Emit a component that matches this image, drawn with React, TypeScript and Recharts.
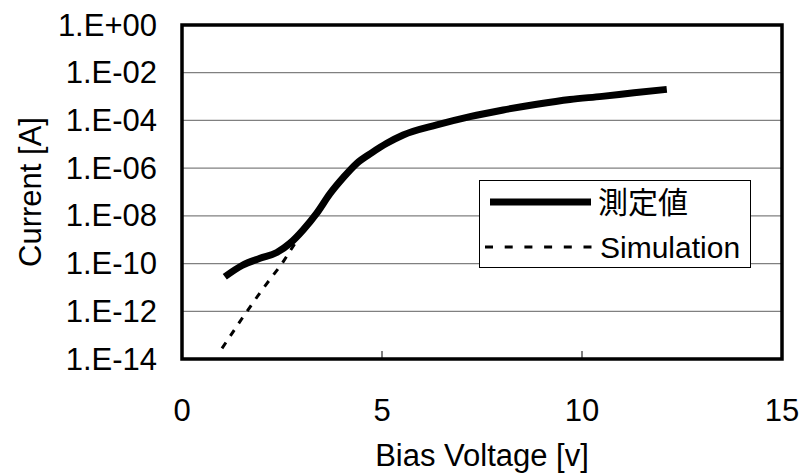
import { LineChart, Line, XAxis, YAxis, CartesianGrid, ReferenceArea } from 'recharts';

const FONT = '"Liberation Sans", Arial, "Noto Sans CJK JP", sans-serif';
const FS = 31;

// measured curve: bias voltage [V] and current [A]
const measuredV = [1.07, 1.5, 1.95, 2.37, 2.7, 3.03, 3.37, 3.7, 4.03, 4.37, 4.75, 5.12, 5.53, 6.37, 7.2, 8.03, 8.87, 9.7, 10.5, 11.3, 12.12];
const measuredI = [2.8e-11, 8.3e-11, 1.66e-10, 2.9e-10, 7.1e-10, 2.6e-9, 1.3e-8, 8.5e-8, 4.0e-7, 1.6e-6, 4.5e-6, 1.1e-5, 2.45e-5, 6.5e-5, 1.45e-4, 2.75e-4, 4.8e-4, 7.6e-4, 1.02e-3, 1.45e-3, 2.0e-3];

// simulation
const simV = [1.0, 1.5, 2.0, 2.5, 2.9];
const simI = [2.8e-14, 5.0e-13, 7.9e-12, 1.0e-10, 1.1e-9];

const xTicks = [0, 5, 10, 15];
const yTicks = [1, 1e-2, 1e-4, 1e-6, 1e-8, 1e-10, 1e-12, 1e-14];

const measured = measuredV.map((v, i) => ({ v, cur: measuredI[i] }));
const simulation = simV.map((v, i) => ({ v, cur: simI[i] }));

const fmtExp = (val: number) => {
  const e = Math.round(Math.log10(val));
  const sign = e < 0 ? '-' : '+';
  return `1.E${sign}${String(Math.abs(e)).padStart(2, '0')}`;
};

const XTick = ({ x, y, payload }: any) => (
  <g>
    {payload.value > 0 && payload.value < 15 && (
      <line x1={x} x2={x} y1={y} y2={y - 8} stroke="#000" strokeWidth={1} />
    )}
    <text x={x} y={y + 51} textAnchor="middle" dominantBaseline="central" fontSize={FS} fontFamily={FONT} fill="#000">
      {payload.value}
    </text>
  </g>
);

const YTick = ({ x, y, payload }: any) => (
  <text x={x - 25} y={y} textAnchor="end" dominantBaseline="central" fontSize={FS} fontFamily={FONT} fill="#000">
    {fmtExp(payload.value)}
  </text>
);

const XTitle = ({ viewBox }: any) => (
  <text x={viewBox.x + viewBox.width / 2} y={455} textAnchor="middle" dominantBaseline="central" fontSize={FS} fontFamily={FONT} fill="#000">
    Bias Voltage [v]
  </text>
);

const YTitle = ({ viewBox }: any) => {
  const cy = viewBox.y + viewBox.height / 2;
  return (
    <text x={30} y={cy} transform={`rotate(-90, 30, ${cy})`} textAnchor="middle" dominantBaseline="central" fontSize={FS} fontFamily={FONT} fill="#000">
      Current [A]
    </text>
  );
};

const LegendBox = () => (
  <div style={{ position: 'absolute', left: 479, top: 180, width: 272, height: 88, border: '1.5px solid #000', background: '#fff', boxSizing: 'border-box' }}>
    <svg width={270} height={86} style={{ display: 'block' }}>
      <line x1={10} x2={111} y1={21} y2={21} stroke="#000" strokeWidth={7} />
      <text x={118} y={21} dominantBaseline="central" fontSize={30} fontFamily={FONT} fill="#000">測定値</text>
      <line x1={5} x2={114} y1={66} y2={66} stroke="#000" strokeWidth={3} strokeDasharray="8 11.7" />
      <text x={120} y={66} dominantBaseline="central" fontSize={30} fontFamily={FONT} fill="#000">Simulation</text>
    </svg>
  </div>
);

export default function App() {
  return (
    <div style={{ position: 'absolute', left: 0, top: 0, width: 801, height: 476, background: '#fff' }}>
      <LineChart width={801} height={476} margin={{ top: 25, right: 19, bottom: 57, left: 0 }}>
        <CartesianGrid vertical={false} stroke="#808080" strokeWidth={1.3} />
        <XAxis
          type="number"
          dataKey="v"
          domain={[0, 15]}
          ticks={xTicks}
          allowDataOverflow
          height={60}
          tickSize={0}
          tickMargin={0}
          axisLine={false}
          tickLine={false}
          tick={<XTick />}
          label={<XTitle />}
        />
        <YAxis
          type="number"
          scale="log"
          domain={[1e-14, 1]}
          ticks={yTicks}
          allowDataOverflow
          width={182}
          tickSize={0}
          tickMargin={0}
          axisLine={false}
          tickLine={false}
          tick={<YTick />}
          label={<YTitle />}
        />
        <ReferenceArea x1={0} x2={15} y1={1e-14} y2={1} fill="none" stroke="#000" strokeWidth={3.5} />
        <Line
          data={simulation}
          dataKey="cur"
          name="Simulation"
          type="linear"
          stroke="#000"
          strokeWidth={3}
          strokeDasharray="7 8"
          dot={false}
          isAnimationActive={false}
        />
        <Line
          data={measured}
          dataKey="cur"
          name="測定値"
          type="monotone"
          stroke="#000"
          strokeWidth={7}
          dot={false}
          isAnimationActive={false}
        />
      </LineChart>
      <LegendBox />
    </div>
  );
}
